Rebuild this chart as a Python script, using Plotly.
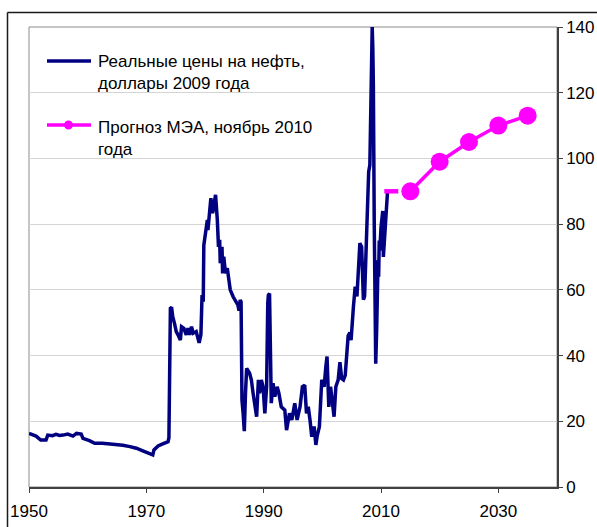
import plotly.graph_objects as go

hist_years = [
    1950.0, 1950.5, 1951.2, 1952.0, 1952.9, 1953.2, 1954.0, 1954.6, 1955.2, 1955.8,
    1956.6, 1957.5, 1958.1, 1958.9, 1959.2, 1960.3, 1961.2, 1962.5, 1964.3, 1964.9,
    1966.0, 1967.2, 1968.3, 1969.4, 1970.6, 1971.1, 1971.3, 1972.0, 1972.6, 1973.1,
    1973.7, 1973.85, 1973.9, 1974.05, 1974.1, 1974.3, 1974.5, 1974.8, 1975.1, 1975.4,
    1975.8, 1976.0, 1976.4, 1976.8, 1977.1, 1977.4, 1977.7, 1978.0, 1978.5, 1979.0,
    1979.3, 1979.5, 1979.7, 1979.8, 1980.1, 1980.4, 1980.5, 1980.8, 1981.0, 1981.3,
    1981.5, 1981.8, 1982.1, 1982.3, 1982.5, 1982.6, 1982.9, 1983.0, 1983.2, 1983.5,
    1983.8, 1984.1, 1984.3, 1984.8, 1985.3, 1985.6, 1985.8, 1986.0, 1986.15, 1986.3,
    1986.5, 1986.7, 1986.9, 1987.1, 1987.6, 1987.9, 1988.2, 1988.5, 1988.8, 1989.1,
    1989.3, 1989.6, 1989.9, 1990.2, 1990.5, 1990.7, 1990.8, 1991.0, 1991.1, 1991.3,
    1991.6, 1991.9, 1992.3, 1992.6, 1993.0, 1993.6, 1993.9, 1994.4, 1994.8, 1995.3,
    1995.7, 1996.2, 1996.6, 1997.0, 1997.3, 1997.6, 1997.9, 1998.2, 1998.6, 1998.9,
    1999.1, 1999.5, 1999.9, 2000.3, 2000.6, 2000.8, 2001.1, 2001.4, 2002.0, 2002.3,
    2002.7, 2003.0, 2003.3, 2003.6, 2003.9, 2004.1, 2004.4, 2004.7, 2004.9, 2005.3,
    2005.6, 2005.9, 2006.1, 2006.4, 2006.7, 2007.0, 2007.2, 2007.4, 2007.7, 2007.9,
    2008.1, 2008.3, 2008.45, 2008.5, 2008.6, 2008.7, 2008.85, 2009.0, 2009.1, 2009.25,
    2009.4, 2009.5, 2009.6, 2009.7, 2009.8, 2010.0, 2010.3, 2010.4, 2010.6, 2010.8,
    2011.0, 2011.1,
]
hist_price = [
    16.3, 16.0, 15.5, 14.3, 14.3, 15.8, 15.6, 16.0, 15.7, 15.8,
    16.1, 15.5, 16.3, 16.1, 14.8, 14.1, 13.3, 13.3, 13.1, 12.8,
    12.7, 12.3, 11.8, 11.0, 10.3, 9.8, 11.3, 12.5, 13.0, 13.3,
    13.8, 15.0, 23.4, 24.4, 54.4, 54.7, 51.8, 49.8, 47.3, 46.3,
    44.7, 48.8, 48.3, 46.3, 48.3, 46.3, 48.8, 46.8, 47.3, 43.9,
    46.3, 58.4, 56.4, 73.6, 77.7, 81.3, 78.2, 84.3, 87.9, 83.3,
    85.3, 88.9, 81.3, 73.1, 75.2, 68.1, 73.1, 65.0, 70.1, 65.0,
    66.6, 63.5, 60.0, 57.9, 56.4, 55.4, 53.7, 56.9, 56.4, 26.5,
    22.4, 17.0, 28.5, 36.1, 34.6, 32.6, 28.5, 25.5, 21.4, 32.6,
    28.5, 32.6, 30.5, 22.4, 30.5, 56.0, 58.4, 58.9, 38.6, 25.5,
    31.6, 27.5, 30.5, 28.5, 24.4, 23.4, 17.3, 22.4, 20.4, 25.5,
    20.4, 24.4, 30.5, 31.0, 22.4, 24.4, 20.4, 15.3, 18.4, 12.8,
    15.3, 18.4, 32.6, 30.5, 36.6, 39.7, 24.4, 30.5, 21.4, 30.5,
    32.6, 38.0, 33.0, 32.6, 34.0, 38.6, 46.0, 47.0, 44.7, 54.9,
    61.0, 58.0, 66.6, 74.2, 73.1, 57.0, 58.0, 70.0, 80.0, 96.0,
    98.0, 115.0, 133.0, 140.0, 134.0, 122.0, 80.0, 42.0, 37.5, 47.0,
    58.0, 69.0, 64.0, 75.0, 72.0, 79.0, 84.0, 70.0, 76.0, 82.0,
    88.0, 89.5,
]

# IEA forecast (WEO, November 2010)
fc_years = [2015, 2020, 2025, 2030, 2035]
fc_price = [90, 99, 105, 110, 113]
fc_start_year = [2011.75]
fc_start_price = [90]

x_ticks = [1950, 1970, 1990, 2010, 2030]

NAVY = "#000080"
MAGENTA = "#FF00FF"
FONT = "Liberation Sans, Arial, sans-serif"

fig = go.Figure()
fig.add_trace(go.Scatter(
    x=hist_years, y=hist_price, mode="lines",
    name="Реальные цены на нефть, доллары 2009 года",
    line=dict(color=NAVY, width=3.5), showlegend=False,
))
fig.add_trace(go.Scatter(
    x=fc_start_year, y=fc_start_price, mode="markers",
    marker=dict(symbol="line-ew", size=10, color=MAGENTA,
                line=dict(color=MAGENTA, width=4.5)),
    showlegend=False,
))
fig.add_trace(go.Scatter(
    x=fc_years, y=fc_price, mode="lines+markers",
    name="Прогноз МЭА, ноябрь 2010 года",
    line=dict(color=MAGENTA, width=3.5),
    marker=dict(color=MAGENTA, size=18), showlegend=False,
))

W, H = 597, 527
ML, MR, MT, MB = 29, 40, 27, 40
PW, PH = W - ML - MR, H - MT - MB


def px(x):
    return (x - ML) / PW


def py(y):
    return (H - MB - y) / PH


shapes = [
    # plot area border (grey)
    dict(type="rect", xref="paper", yref="paper", x0=0, x1=1, y0=0, y1=1,
         line=dict(color="#8C8C8C", width=1), layer="below"),
    # outer frame (cropped)
    dict(type="line", xref="paper", yref="paper", x0=px(7.5), x1=px(7.5),
         y0=py(12.5), y1=py(540), line=dict(color="#1A1A1A", width=1.5)),
    dict(type="line", xref="paper", yref="paper", x0=px(7.5), x1=px(610),
         y0=py(12.5), y1=py(12.5), line=dict(color="#1A1A1A", width=1.5)),
    # legend samples
    dict(type="line", xref="paper", yref="paper", x0=px(47), x1=px(91),
         y0=py(61), y1=py(61), line=dict(color=NAVY, width=3.5)),
    dict(type="line", xref="paper", yref="paper", x0=px(47), x1=px(91),
         y0=py(125), y1=py(125), line=dict(color=MAGENTA, width=3.5)),
    dict(type="circle", xref="paper", yref="paper", xsizemode="pixel", ysizemode="pixel",
         xanchor=px(68.5), yanchor=py(125), x0=-4.5, x1=4.5, y0=-4.5, y1=4.5,
         fillcolor=MAGENTA, line=dict(color=MAGENTA, width=0)),
]

annotations = [
    dict(xref="paper", yref="paper", x=px(96), y=py(72), xanchor="left", yanchor="middle",
         text="Реальные цены на нефть,<br>доллары 2009 года", showarrow=False,
         align="left", font=dict(family=FONT, size=17, color="black")),
    dict(xref="paper", yref="paper", x=px(96), y=py(138), xanchor="left", yanchor="middle",
         text="Прогноз МЭА, ноябрь 2010<br>года", showarrow=False,
         align="left", font=dict(family=FONT, size=17, color="black")),
]

fig.update_layout(
    width=W, height=H,
    margin=dict(l=ML, r=MR, t=MT, b=MB, pad=0),
    paper_bgcolor="white", plot_bgcolor="white",
    font=dict(family=FONT, size=17, color="black"),
    shapes=shapes, annotations=annotations,
    xaxis=dict(range=[1950, 2040], tickvals=x_ticks, ticktext=[str(v) for v in x_ticks],
               ticks="outside", ticklen=4, tickcolor="#404040", showline=True,
               linecolor="#404040", linewidth=1.5, showgrid=False, zeroline=False,
               automargin=False, ticklabelstandoff=4,
               tickfont=dict(family=FONT, size=17, color="black")),
    yaxis=dict(range=[0, 140], dtick=20, side="right", ticks="outside", ticklen=4,
               tickcolor="#404040", showline=True, linecolor="#404040", linewidth=1.5,
               showgrid=True, gridcolor="#D4D4D4", gridwidth=1, zeroline=False,
               automargin=False,
               tickfont=dict(family=FONT, size=17, color="black")),
)

fig.write_html(
    "out.html",
    config={"displayModeBar": False},
    post_script="document.body.style.margin='0';document.body.style.padding='0';"
                "document.body.style.overflow='hidden';",
)
